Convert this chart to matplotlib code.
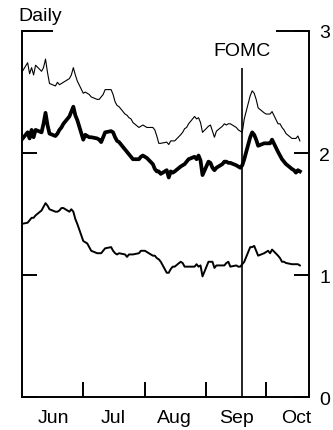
import matplotlib
matplotlib.use('Agg')
import matplotlib.pyplot as plt
import matplotlib.dates as mdates
import pandas as pd
from datetime import datetime

plt.rcParams['font.family'] = ['Liberation Sans', 'DejaVu Sans']

dates = pd.bdate_range('2019-05-31', '2019-10-18')

thin = [2.66, 2.74, 2.65, 2.70, 2.64, 2.72, 2.67, 2.70, 2.77, 2.66, 2.57,
        2.55, 2.58, 2.56, 2.57, 2.58, 2.61, 2.64, 2.70, 2.64, 2.59,
        2.49, 2.50, 2.49, 2.48, 2.46, 2.44, 2.44, 2.46, 2.48, 2.52,
        2.52, 2.48, 2.42, 2.39, 2.38, 2.32, 2.31, 2.29, 2.28, 2.25,
        2.21, 2.22, 2.23, 2.22, 2.21, 2.21, 2.19, 2.14, 2.08, 2.08,
        2.09, 2.07, 2.10, 2.10, 2.10, 2.15, 2.17, 2.20, 2.21, 2.24,
        2.30, 2.28, 2.29, 2.25, 2.17, 2.22, 2.23, 2.18, 2.13, 2.18,
        2.22, 2.24, 2.23, 2.24, 2.24, 2.21, 2.19, 2.18, 2.17, 2.28,
        2.47, 2.51, 2.49, 2.44, 2.37, 2.33, 2.32, 2.32, 2.32, 2.34,
        2.24, 2.24, 2.21, 2.19, 2.16, 2.12, 2.12, 2.12, 2.14, 2.10]

thick = [2.11, 2.17, 2.12, 2.19, 2.13, 2.19, 2.17, 2.24, 2.33, 2.23, 2.16,
         2.14, 2.16, 2.19, 2.21, 2.24, 2.30, 2.34, 2.38, 2.31, 2.27,
         2.11, 2.15, 2.14, 2.13, 2.13, 2.12, 2.11, 2.09, 2.13, 2.17,
         2.18, 2.17, 2.13, 2.10, 2.09, 2.03, 2.01, 1.99, 1.97, 1.95,
         1.95, 1.97, 1.98, 1.97, 1.96, 1.91, 1.87, 1.85, 1.85, 1.83,
         1.86, 1.80, 1.85, 1.84, 1.85, 1.89, 1.90, 1.91, 1.93, 1.95,
         1.97, 1.95, 1.98, 1.94, 1.82, 1.93, 1.92, 1.88, 1.86, 1.88,
         1.91, 1.93, 1.93, 1.92, 1.92, 1.90, 1.89, 1.88, 1.90, 1.95,
         2.13, 2.17, 2.15, 2.11, 2.06, 2.08, 2.08, 2.08, 2.08, 2.11,
         2.01, 1.98, 1.95, 1.93, 1.91, 1.87, 1.86, 1.84, 1.86, 1.85]

bottom = [1.42, 1.43, 1.45, 1.47, 1.47, 1.49, 1.53, 1.56, 1.59, 1.57, 1.54,
          1.52, 1.52, 1.53, 1.55, 1.55, 1.52, 1.54, 1.52, 1.46, 1.42,
          1.28, 1.27, 1.26, 1.23, 1.20, 1.18, 1.18, 1.18, 1.20, 1.22,
          1.23, 1.20, 1.18, 1.17, 1.18, 1.17, 1.15, 1.17, 1.17, 1.17,
          1.18, 1.20, 1.20, 1.20, 1.19, 1.16, 1.16, 1.14, 1.13, 1.11,
          1.02, 1.02, 1.05, 1.07, 1.07, 1.11, 1.10, 1.07, 1.07, 1.07,
          1.07, 1.09, 1.07, 1.08, 0.99, 1.11, 1.11, 1.11, 1.06, 1.08,
          1.08, 1.08, 1.10, 1.11, 1.07, 1.08, 1.07, 1.07, 1.09, 1.11,
          1.23, 1.23, 1.24, 1.20, 1.16, 1.18, 1.19, 1.20, 1.18, 1.21,
          1.16, 1.14, 1.11, 1.11, 1.10, 1.09, 1.09, 1.09, 1.09, 1.08]

month_labels = ['Jun', 'Jul', 'Aug', 'Sep', 'Oct']
month_ticks = ['2019-07-01', '2019-08-01', '2019-09-01', '2019-10-01']
label_pos = ['2019-06-16', '2019-07-16', '2019-08-16', '2019-09-16', '2019-10-16']
y_ticks = [0, 1, 2, 3]
fomc_date = datetime(2019, 9, 19)

fig = plt.figure(figsize=(3.33, 4.31), dpi=100)
ax = fig.add_axes([21.5 / 333, (431 - 398.3) / 431, (309 - 21.5) / 333, (398.3 - 32) / 431])

ax.plot(dates, thin, color='black', lw=0.8)
ax.plot(dates, thick, color='black', lw=2.7)
ax.plot(dates, bottom, color='black', lw=1.4)

ax.vlines(fomc_date, 0, 2.7, color='black', lw=1.2)
ax.text(fomc_date, 2.80, 'FOMC', ha='center', va='baseline', fontsize=14)

ax.set_xlim(datetime(2019, 5, 30, 22), datetime(2019, 10, 22, 14))
ax.set_ylim(0, 3)

ax.set_yticks(y_ticks)
ax.set_yticklabels([str(v) for v in y_ticks])
ax.yaxis.tick_right()
ax.tick_params(axis='y', which='major', direction='in', length=11, width=1.4,
               left=True, right=True, labelleft=False, labelright=True,
               labelsize=14, pad=7.5)

ax.set_xticks(pd.to_datetime(month_ticks))
ax.set_xticklabels([])
ax.set_xticks(pd.to_datetime(label_pos), minor=True)
ax.set_xticklabels(month_labels, minor=True)
ax.tick_params(axis='x', which='major', direction='in', length=10.5, width=1.4)
ax.tick_params(axis='x', which='minor', length=0, labelsize=14, pad=8.5)

for s in ['left', 'right', 'bottom']:
    ax.spines[s].set_linewidth(1.4)
ax.spines['top'].set_visible(False)
ax.plot([0, (53 - 21.5) / 287.5], [1, 1], transform=ax.transAxes, color='black',
        lw=1.4, clip_on=False, solid_capstyle='butt')
ax.plot([(276 - 21.5) / 287.5, 1], [1, 1], transform=ax.transAxes, color='black',
        lw=1.4, clip_on=False, solid_capstyle='butt')

fig.text(18 / 333, 1 - 20.7 / 431, 'Daily', ha='left', va='baseline', fontsize=14)

fig.savefig('out.png', dpi=100)
